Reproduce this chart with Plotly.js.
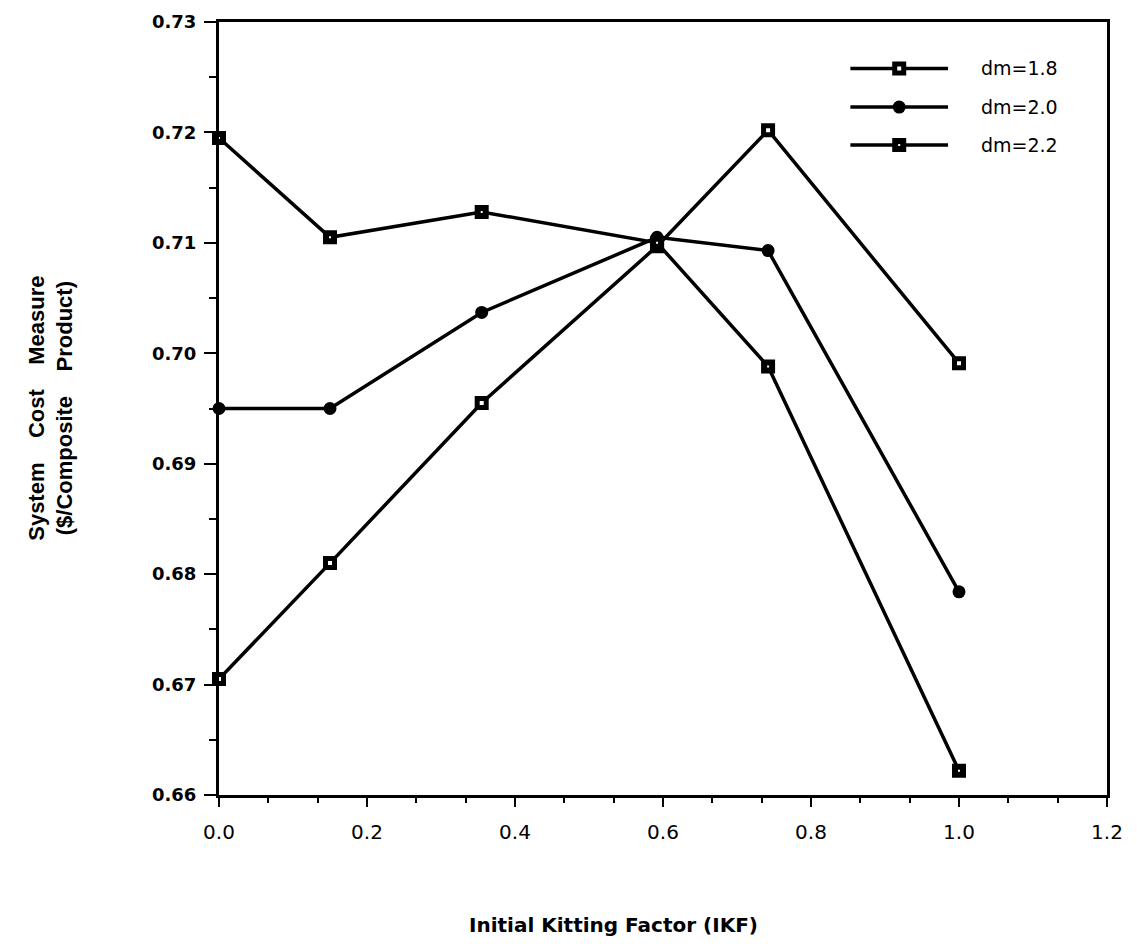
<!DOCTYPE html>
<html>
<head>
<meta charset="utf-8">
<script src="https://cdn.plot.ly/plotly-3.0.1.min.js"></script>
<style>
  html, body { margin: 0; padding: 0; background: #fff; }
  #chart { width: 1137px; height: 948px; }
</style>
</head>
<body>
<div id="chart"></div>
<script>
// Initial kitting factor on the x axis
const ikf = [0.0, 0.15, 0.355, 0.592, 0.742, 1.0];

// System cost measure for each dm setting
const dm18 = [0.6705, 0.6810, 0.6955, 0.7097, 0.7202, 0.6991];
const dm20 = [0.6950, 0.6950, 0.7037, 0.7105, 0.7093, 0.6784];
const dm22 = [0.7195, 0.7105, 0.7128, 0.7100, 0.6988, 0.6622];

const seriesNames = ['dm=1.8', 'dm=2.0', 'dm=2.2'];

const xTicks = [0.0, 0.2, 0.4, 0.6, 0.8, 1.0, 1.2];
const yTicks = [0.66, 0.67, 0.68, 0.69, 0.70, 0.71, 0.72, 0.73];

const ink = '#000000';
const lineW = 3.5;
const wideFont = 'DejaVu Sans, Liberation Sans, Arial, sans-serif';

const markerStyles = [
  { symbol: 'square', size: 9, color: '#ffffff', line: { color: ink, width: 5 } },
  { symbol: 'circle', size: 13, color: ink, line: { color: ink, width: 0 } },
  { symbol: 'square', size: 8, color: '#ffffff', line: { color: ink, width: 6 } }
];

const values = [dm18, dm20, dm22];

const traces = values.map((ys, i) => ({
  x: ikf,
  y: ys,
  name: seriesNames[i],
  type: 'scatter',
  mode: 'lines+markers',
  line: { color: ink, width: lineW },
  marker: markerStyles[i],
  showlegend: false,
  cliponaxis: false
}));

// Key in the upper right corner, drawn on a hidden 0..1 overlay axis
const keyX0 = 0.711, keyX1 = 0.821, keyTextX = 0.856;
const keyRows = [0.940, 0.890, 0.841];
const keyAnnotations = [];
seriesNames.forEach((name, i) => {
  const yk = keyRows[i];
  traces.push({
    x: [keyX0, keyX1], y: [yk, yk],
    xaxis: 'x2', yaxis: 'y2',
    type: 'scatter', mode: 'lines',
    line: { color: ink, width: lineW },
    showlegend: false, hoverinfo: 'skip'
  });
  traces.push({
    x: [(keyX0 + keyX1) / 2], y: [yk],
    xaxis: 'x2', yaxis: 'y2',
    type: 'scatter', mode: 'markers',
    marker: markerStyles[i],
    showlegend: false, hoverinfo: 'skip'
  });
  keyAnnotations.push({
    xref: 'x2', yref: 'y2', x: keyTextX, y: yk,
    xanchor: 'left', yanchor: 'middle',
    text: name, showarrow: false,
    font: { family: wideFont, size: 19, color: ink }
  });
});

const nb = '\u00A0';
const gap = nb.repeat(4);

const layout = {
  width: 1137,
  height: 948,
  margin: { l: 219, r: 30, t: 22, b: 153 },
  paper_bgcolor: '#ffffff',
  plot_bgcolor: '#ffffff',
  font: { family: wideFont, color: ink },
  showlegend: false,
  xaxis: {
    range: [0, 1.2],
    tickvals: xTicks,
    tickformat: '.1f',
    ticks: 'outside',
    ticklen: 9,
    tickwidth: 2,
    tickcolor: ink,
    ticklabelstandoff: 8,
    minor: { dtick: 0.2 / 3, ticks: 'outside', ticklen: 5, tickwidth: 2, tickcolor: ink },
    showline: true,
    linecolor: ink,
    linewidth: 3,
    mirror: true,
    showgrid: false,
    zeroline: false,
    tickfont: { family: wideFont, size: 20, color: ink }
  },
  yaxis: {
    range: [0.66, 0.73],
    tickvals: yTicks,
    tickformat: '.2f',
    ticks: 'outside',
    ticklen: 12,
    tickwidth: 2,
    tickcolor: ink,
    ticklabelstandoff: 4,
    minor: { dtick: 0.005, ticks: 'outside', ticklen: 7, tickwidth: 2, tickcolor: ink },
    showline: true,
    linecolor: ink,
    linewidth: 3,
    mirror: true,
    showgrid: false,
    zeroline: false,
    tickfont: { family: wideFont, size: 18, color: ink, weight: 'bold' }
  },
  xaxis2: { overlaying: 'x', anchor: 'y2', range: [0, 1], visible: false, fixedrange: true },
  yaxis2: { overlaying: 'y', anchor: 'x2', range: [0, 1], visible: false, fixedrange: true },
  annotations: keyAnnotations.concat([
    {
      xref: 'paper', yref: 'paper', x: 0.444, y: -0.168,
      xanchor: 'center', yanchor: 'middle', showarrow: false,
      text: '<b>Initial Kitting Factor (IKF)</b>',
      font: { family: wideFont, size: 20, color: ink }
    },
    {
      xref: 'paper', yref: 'paper', x: -0.19, y: 0.5,
      xanchor: 'center', yanchor: 'middle', showarrow: false,
      textangle: -90,
      text: '<b>System' + gap + 'Cost' + gap + 'Measure<br>(\$/Composite' + gap + 'Product)</b>',
      font: { family: 'Liberation Sans, Arial, sans-serif', size: 22, color: ink }
    }
  ])
};

Plotly.newPlot('chart', traces, layout, { staticPlot: true, displayModeBar: false });
</script>
</body>
</html>
